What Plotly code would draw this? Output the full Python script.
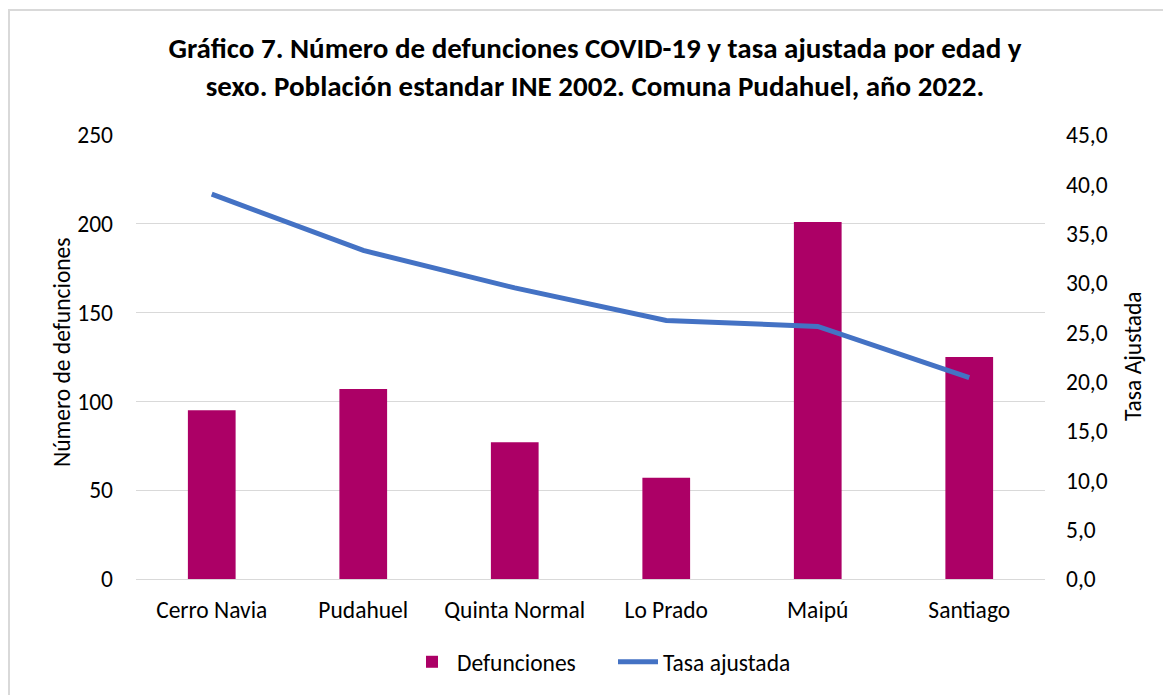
import plotly.graph_objects as go

categorias = ["Cerro Navia", "Pudahuel", "Quinta Normal", "Lo Prado", "Maipú", "Santiago"]
defunciones = [95, 107, 77, 57, 201, 125]
tasa_ajustada = [39.0, 33.3, 29.5, 26.2, 25.6, 20.4]

FONT = "Carlito, Lato, sans-serif"
TXT = "#000000"
FS = 23.5

fig = go.Figure()
fig.add_trace(go.Bar(
    x=categorias, y=defunciones, name="Defunciones",
    marker=dict(color="#AC0066", line=dict(width=0)),
    yaxis="y",
))
fig.add_trace(go.Scatter(
    x=categorias, y=tasa_ajustada, name="Tasa ajustada",
    mode="lines", line=dict(color="#4472C4", width=5),
    yaxis="y2",
))

OFF = 8  # page body margin
W, H = 1171, 695
L, T = 136 - OFF, 135 - OFF
R = W - (1045 - OFF)
B = H - (579 - OFF)
pw, ph = W - L - R, H - T - B
BOT = 579 - OFF


def px_x(sx):
    return (sx - OFF - L) / pw


def px_y(sy):
    return (BOT - (sy - OFF)) / ph


fig.update_layout(
    width=W, height=H,
    margin=dict(l=L, r=R, t=T, b=B),
    paper_bgcolor="white", plot_bgcolor="white",
    separators=",.",
    font=dict(family=FONT, size=FS, color=TXT),
    bargap=0.685,
    title=dict(
        text="<b>Gráfico 7. Número de defunciones COVID-19 y tasa ajustada por edad y<br>sexo. Población estandar INE 2002. Comuna Pudahuel, año 2022.</b>",
        x=px_x(595), xref="paper", xanchor="center",
        y=1 - (58 - OFF) / H, yref="container", yanchor="middle",
        font=dict(family=FONT, size=29, color=TXT),
    ),
    xaxis=dict(
        showgrid=False, showline=False, ticks="",
        ticklabelstandoff=14,
        tickfont=dict(size=FS),
    ),
    yaxis=dict(
        range=[0, 250], dtick=50, tick0=0,
        showgrid=True, gridcolor="#D9D9D9", gridwidth=1,
        zeroline=True, zerolinecolor="#D9D9D9", zerolinewidth=1,
        showline=False, ticks="", ticklabelstandoff=22,
        tickfont=dict(size=FS),
    ),
    yaxis2=dict(
        range=[0, 45], dtick=5, tick0=0, tickformat=".1f",
        overlaying="y", side="right",
        showgrid=False, zeroline=False, showline=False, ticks="",
        ticklabelstandoff=20,
        tickfont=dict(size=FS),
    ),
    showlegend=True,
    legend=dict(
        orientation="h", x=px_x(613), xanchor="center",
        y=px_y(662), yanchor="middle",
        font=dict(size=FS), itemwidth=40, traceorder="normal",
        entrywidth=151, entrywidthmode="pixels",
        bgcolor="rgba(0,0,0,0)",
    ),
    annotations=[
        dict(text="Número de defunciones", textangle=-90,
             x=px_x(62), y=px_y(352), xref="paper", yref="paper",
             xanchor="center", yanchor="middle", showarrow=False,
             font=dict(family=FONT, size=FS, color=TXT)),
        dict(text="Tasa Ajustada", textangle=-90,
             x=px_x(1133), y=px_y(356), xref="paper", yref="paper",
             xanchor="center", yanchor="middle", showarrow=False,
             font=dict(family=FONT, size=FS, color=TXT)),
    ],
    shapes=[
        dict(type="rect", xref="paper", yref="paper",
             x0=px_x(9), x1=px_x(1190),
             y0=px_y(720), y1=px_y(10),
             line=dict(color="#D9D9D9", width=2), fillcolor="rgba(0,0,0,0)",
             layer="below"),
    ],
)

fig.write_html("out.html")
